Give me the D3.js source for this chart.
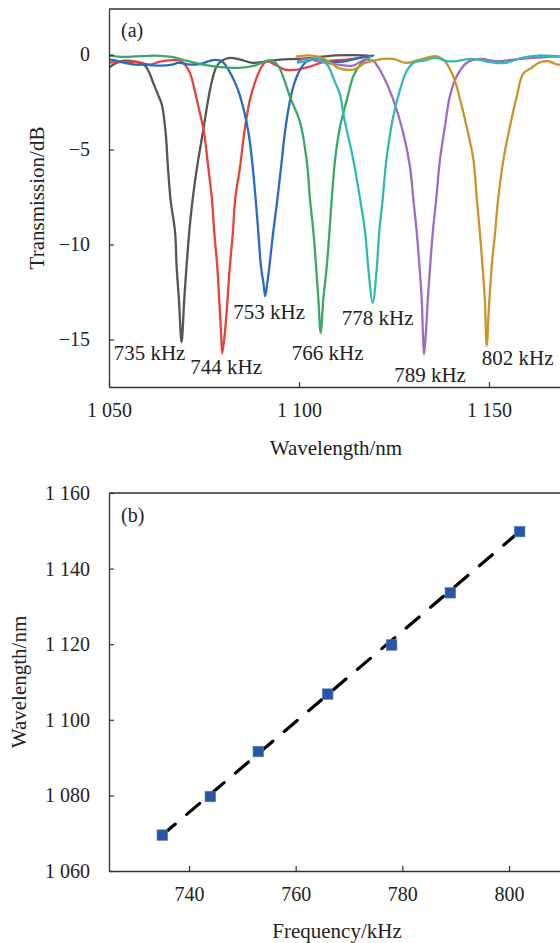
<!DOCTYPE html>
<html><head><meta charset="utf-8">
<script src="https://cdn.jsdelivr.net/npm/d3@7"></script>
<style>
body{margin:0;background:#fff;}
svg{display:block;}
text{font-family:"Liberation Serif","Times New Roman",serif;fill:#222;}
</style>
</head><body>
<svg id="c" width="560" height="943"></svg>
<script>
// ---------- DATA ----------
const seriesLabels = ["735 kHz","744 kHz","753 kHz","766 kHz","778 kHz","789 kHz","802 kHz"];
const trans735 = [[1050.0,-0.68],[1052.1,-0.42],[1054.2,-0.32],[1056.8,-0.37],[1059.5,-0.58],[1060.8,-1.05],[1061.6,-1.47],[1062.9,-2.11],[1063.9,-2.63],[1064.9,-4.10],[1065.5,-5.89],[1066.2,-7.63],[1067.4,-9.37],[1067.8,-11.16],[1068.4,-12.89],[1069.1,-15.14],[1069.8,-12.89],[1070.4,-11.16],[1071.1,-9.37],[1072.0,-7.63],[1073.2,-5.89],[1074.7,-4.10],[1076.1,-2.37],[1077.0,-1.47],[1078.3,-0.63],[1079.7,-0.32],[1081.8,-0.17],[1084.5,-0.26],[1087.9,-0.44],[1091.1,-0.37],[1095.0,-0.26],[1099.7,-0.23],[1104.2,-0.16],[1108.7,-0.05],[1113.4,-0.03],[1118.2,-0.05]];
const trans744 = [[1050.0,-0.42],[1052.9,-0.39],[1057.6,-0.39],[1060.8,-0.53],[1063.4,-0.37],[1066.6,-0.29],[1068.7,-0.32],[1070.0,-0.53],[1071.3,-0.96],[1073.1,-2.37],[1075.0,-4.10],[1076.1,-5.89],[1077.1,-7.63],[1077.7,-9.37],[1078.5,-11.16],[1079.0,-12.89],[1079.5,-14.63],[1079.8,-15.74],[1080.5,-14.63],[1081.2,-12.89],[1081.8,-11.16],[1082.6,-9.37],[1083.2,-7.63],[1084.5,-5.89],[1085.6,-4.10],[1087.1,-2.37],[1088.4,-1.47],[1090.2,-0.62],[1091.6,-0.35],[1093.7,-0.53],[1096.3,-0.79],[1099.5,-0.79],[1102.9,-0.63],[1106.8,-0.37],[1112.6,-0.26],[1118.7,-0.09]];
const trans753 = [[1050.0,-0.26],[1051.6,-0.30],[1054.2,-0.44],[1056.8,-0.53],[1059.5,-0.53],[1063.4,-0.58],[1066.6,-0.53],[1068.2,-0.44],[1071.8,-0.53],[1074.4,-0.47],[1077.0,-0.30],[1077.9,-0.28],[1079.7,-0.35],[1081.4,-0.79],[1083.2,-1.49],[1084.5,-2.19],[1086.7,-4.10],[1087.8,-5.89],[1088.6,-7.63],[1089.3,-9.37],[1090.0,-11.16],[1090.7,-12.11],[1091.1,-12.72],[1091.6,-12.11],[1092.2,-11.16],[1093.2,-9.37],[1094.3,-7.63],[1095.3,-5.89],[1096.3,-4.10],[1097.2,-2.89],[1098.5,-1.68],[1100.3,-0.79],[1102.0,-0.37],[1104.7,-0.23],[1108.2,-0.37],[1111.6,-0.37],[1116.1,-0.16],[1119.5,-0.05]];
const trans766 = [[1050.0,-0.05],[1054.2,-0.12],[1062.1,-0.05],[1066.5,-0.12],[1070.0,-0.30],[1073.5,-0.47],[1077.9,-0.62],[1084.0,-0.70],[1088.4,-0.58],[1091.1,-0.35],[1092.8,-0.30],[1094.6,-0.62],[1096.1,-1.32],[1097.6,-2.21],[1100.3,-3.58],[1102.0,-5.53],[1102.9,-7.63],[1103.8,-9.37],[1104.5,-11.16],[1105.1,-12.89],[1105.7,-14.65],[1106.4,-12.89],[1107.3,-11.16],[1108.0,-9.37],[1108.6,-7.63],[1109.5,-5.53],[1110.8,-3.79],[1112.6,-2.37],[1114.3,-1.14],[1116.1,-0.53],[1118.7,-0.12]];
const trans778 = [[1099.7,-0.42],[1101.6,-0.35],[1103.8,-0.17],[1106.0,-0.30],[1107.6,-0.58],[1109.2,-1.32],[1110.8,-2.11],[1111.8,-3.26],[1113.9,-5.16],[1115.0,-6.32],[1116.1,-7.63],[1117.4,-9.37],[1118.2,-11.16],[1119.4,-13.07],[1120.5,-11.16],[1121.1,-9.37],[1122.0,-7.63],[1123.1,-5.37],[1124.8,-3.26],[1126.6,-1.84],[1128.3,-0.88],[1130.1,-0.44],[1133.2,-0.30],[1136.2,-0.17],[1138.9,-0.35],[1141.1,-0.35],[1145.5,-0.23],[1150.7,-0.41],[1154.2,-0.44],[1158.6,-0.17],[1163.0,-0.05],[1168.7,-0.09],[1172.6,-0.05]];
const trans789 = [[1099.7,-0.37],[1101.6,-0.23],[1105.5,-0.37],[1110.3,-0.53],[1114.2,-0.58],[1117.4,-0.26],[1119.6,-0.35],[1120.4,-0.53],[1122.2,-1.14],[1124.8,-2.37],[1127.4,-4.10],[1129.2,-5.89],[1130.1,-7.63],[1131.0,-9.37],[1131.7,-11.16],[1132.3,-12.89],[1132.6,-14.63],[1132.9,-15.79],[1133.4,-14.63],[1133.9,-12.89],[1134.5,-11.16],[1135.2,-9.37],[1136.1,-7.63],[1137.1,-5.53],[1138.4,-3.79],[1139.7,-2.19],[1141.5,-1.14],[1144.1,-0.44],[1147.6,-0.23],[1152.0,-0.35],[1156.4,-0.26],[1161.7,-0.17],[1168.7,-0.09],[1172.6,-0.05]];
const trans802 = [[1099.4,-0.09],[1103.3,-0.05],[1106.0,-0.17],[1108.6,-0.47],[1110.3,-0.70],[1114.3,-0.79],[1117.4,-0.44],[1120.9,-0.26],[1124.8,-0.23],[1128.3,-0.44],[1131.8,-0.26],[1136.2,-0.09],[1138.0,-0.26],[1140.6,-1.14],[1142.4,-2.37],[1144.1,-3.79],[1145.9,-5.53],[1146.8,-7.63],[1147.6,-9.37],[1148.3,-11.16],[1148.9,-12.89],[1149.4,-15.32],[1150.0,-13.25],[1150.7,-11.16],[1151.6,-9.37],[1152.4,-7.63],[1153.8,-5.53],[1155.5,-3.79],[1157.3,-2.21],[1159.0,-1.00],[1161.2,-0.70],[1163.0,-0.44],[1165.6,-0.35],[1168.2,-0.53],[1172.6,-0.37]];
const transSeries = [trans735,trans744,trans753,trans766,trans778,trans789,trans802];

const xTicksA = [1050,1100,1150];
const xTickLabelsA = ["1 050","1 100","1 150"];
const yTicksA = [0,-5,-10,-15];

const freqKHz = [735,744,753,766,778,789,802];
const peakWl  = [1069.5,1079.7,1091.6,1106.8,1119.8,1133.6,1149.8];
const fitFreq = [735,802];
const fitWl   = [1069.5,1149.8];
const xTicksB = [740,760,780,800];
const yTicksB = [1060,1080,1100,1120,1140,1160];
const yTickLabelsB = ["1 060","1 080","1 100","1 120","1 140","1 160"];

// ---------- STYLE / LAYOUT ----------
const colors = ["#555555","#e5433e","#2a6bbd","#3ba76b","#33b9b3","#9a6dc2","#c8952c"];
const labelOffsets = [[-32,18],[4,20],[4,23],[7,27],[5,22],[6,27],[31,19]];
const svg = d3.select("#c");
const axisColor = "#333";

// ---------- PANEL (a) ----------
const xA = d3.scaleLinear().domain([1050,1180]).range([109,603]);
const yA = d3.scaleLinear().domain([-17.5,2.4]).range([387,9]);

const defs = svg.append("defs");
defs.append("clipPath").attr("id","clipA").append("rect")
  .attr("x",xA(1050)).attr("y",yA(2.4)).attr("width",xA(1180)-xA(1050)).attr("height",yA(-17.5)-yA(2.4));

const gA = svg.append("g");
const lineA = d3.line().x(d=>xA(d[0])).y(d=>yA(d[1])).curve(d3.curveCatmullRom.alpha(0.5));
const order = [0,1,2,3,5,6,4];
gA.append("g").attr("clip-path","url(#clipA)").selectAll("path").data(order).join("path")
  .attr("d",i=>lineA(transSeries[i]))
  .attr("fill","none").attr("stroke",i=>colors[i]).attr("stroke-width",2.3)
  .attr("stroke-linejoin","round").attr("stroke-linecap","round");

// frame top line
gA.append("line").attr("x1",xA(1050)).attr("x2",xA(1180)).attr("y1",yA(2.4)).attr("y2",yA(2.4))
  .attr("stroke",axisColor).attr("stroke-width",1.3);

const axYA = gA.append("g").attr("transform",`translate(${xA(1050)},0)`)
  .call(d3.axisLeft(yA).tickValues(yTicksA).tickSize(-5).tickSizeOuter(0).tickPadding(19));
const axXA = gA.append("g").attr("transform",`translate(0,${yA(-17.5)})`)
  .call(d3.axisBottom(xA).tickValues(xTicksA).tickFormat((d,i)=>xTickLabelsA[i]).tickSize(-5).tickSizeOuter(0).tickPadding(16));

// labels on dips
transSeries.forEach((s,i)=>{
  const m = s.reduce((a,b)=> b[1]<a[1]?b:a);
  gA.append("text").attr("x",xA(m[0])+labelOffsets[i][0]).attr("y",yA(m[1])+labelOffsets[i][1])
    .attr("text-anchor","middle").attr("font-size",21).text(seriesLabels[i]);
});
gA.append("text").attr("x",121).attr("y",37).attr("font-size",20).text("(a)");
gA.append("text").attr("transform",`translate(44,198) rotate(-90)`).attr("text-anchor","middle")
  .attr("font-size",21).text("Transmission/dB");
gA.append("text").attr("x",336).attr("y",455).attr("text-anchor","middle").attr("font-size",21).text("Wavelength/nm");

// ---------- PANEL (b) ----------
const xB = d3.scaleLinear().domain([725,815]).range([109,589]);
const yB = d3.scaleLinear().domain([1060,1160]).range([871,493]);
const gB = svg.append("g");

gB.append("line").attr("x1",xB(725)).attr("x2",xB(815)).attr("y1",yB(1160)).attr("y2",yB(1160))
  .attr("stroke",axisColor).attr("stroke-width",1.3);
gB.append("g").attr("transform",`translate(${xB(725)},0)`)
  .call(d3.axisLeft(yB).tickValues(yTicksB).tickFormat((d,i)=>yTickLabelsB[i]).tickSize(-5).tickSizeOuter(0).tickPadding(19));
gB.append("g").attr("transform",`translate(0,${yB(1060)})`)
  .call(d3.axisBottom(xB).tickValues(xTicksB).tickSize(-5).tickSizeOuter(0).tickPadding(16));

const fitPts = fitFreq.map((f,i)=>[f,fitWl[i]]);
gB.append("path").attr("d",d3.line().x(d=>xB(d[0])).y(d=>yB(d[1]))(fitPts))
  .attr("fill","none").attr("stroke","#000").attr("stroke-width",3.2)
  .attr("stroke-dasharray","17,15").attr("stroke-linecap","round");
gB.selectAll("rect.pt").data(freqKHz).join("rect").attr("class","pt")
  .attr("x",(d,i)=>xB(d)-5.3).attr("y",(d,i)=>yB(peakWl[i])-5.3).attr("width",10.6).attr("height",10.6)
  .attr("fill","#2a55a4").attr("stroke","#5a7cc0").attr("stroke-width",0.6);

gB.append("text").attr("x",121).attr("y",522).attr("font-size",20).text("(b)");
gB.append("text").attr("transform",`translate(26,682) rotate(-90)`).attr("text-anchor","middle")
  .attr("font-size",21).text("Wavelength/nm");
gB.append("text").attr("x",337).attr("y",938).attr("text-anchor","middle").attr("font-size",21).text("Frequency/kHz");

// axis styling
svg.selectAll(".domain").attr("stroke",axisColor).attr("stroke-width",1.3);
svg.selectAll(".tick line").attr("stroke",axisColor).attr("stroke-width",1.2);
svg.selectAll(".tick text").attr("font-size",20).attr("font-family",'"Liberation Serif","Times New Roman",serif').attr("fill","#222");
</script>
</body></html>
